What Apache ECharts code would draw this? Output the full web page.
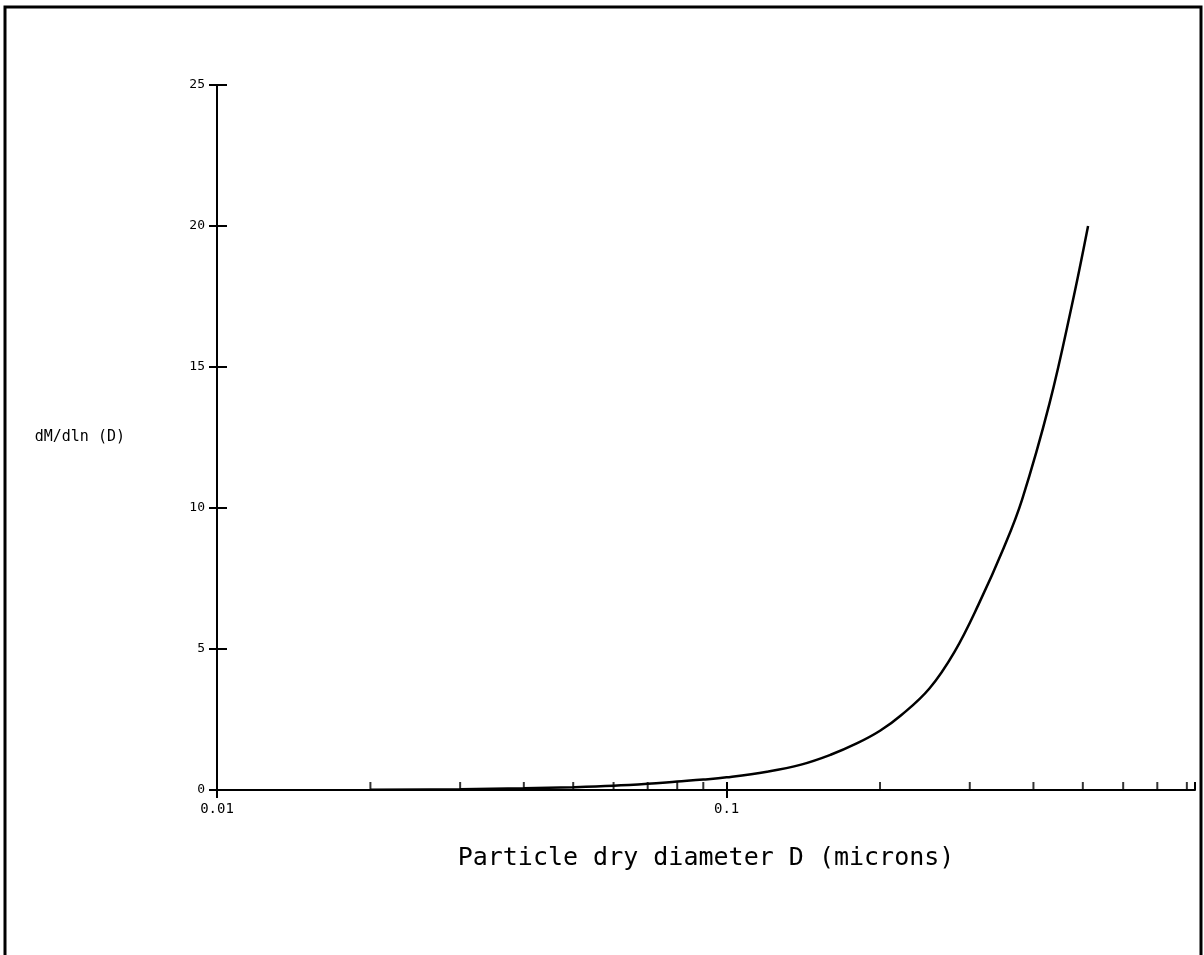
<!DOCTYPE html>
<html>
<head>
<meta charset="utf-8">
<title>dM/dln(D)</title>
<script src="https://cdn.jsdelivr.net/npm/echarts@6/dist/echarts.min.js"></script>
<style>
  html, body { margin: 0; padding: 0; background: #fff; }
  #chart { width: 1204px; height: 955px; }
</style>
</head>
<body>
<div id="chart"></div>
<script>
// diameters (microns) and dM/dln(D)
var diam = [0.02, 0.03, 0.04, 0.05, 0.06, 0.07, 0.08, 0.09, 0.1, 0.12, 0.14, 0.16, 0.18, 0.2, 0.22, 0.25, 0.28, 0.3125, 0.35, 0.38, 0.43, 0.476, 0.512]
var mass = [0.01, 0.03, 0.06, 0.1, 0.15, 0.22, 0.3, 0.37, 0.45, 0.65, 0.9, 1.25, 1.65, 2.1, 2.65, 3.6, 4.9, 6.6, 8.6, 10.3, 13.7, 17.2, 20]
// small tick marks along the diameter axis
var minorTicks = [0.02, 0.03, 0.04, 0.05, 0.06, 0.07, 0.08, 0.09, 0.2, 0.3, 0.4, 0.5, 0.6, 0.7, 0.8]
var xLabels = ['0.01', '0.1']

var font = 'DejaVu Sans Mono'
var curve = diam.map(function (d, i) { return [d, mass[i]] })
var minor = minorTicks.map(function (d) { return [d, 0] })

var myChart = echarts.init(document.getElementById('chart'))
var xBase = {
    type: 'log',
    logBase: 10,
    min: 0.01,
    max: 0.83,
    splitLine: { show: false },
    axisLine: { show: false }
}
var options = {
    animation: false,
    backgroundColor: '#fff',
    grid: { left: 217, right: 9, top: 85, bottom: 165, containLabel: false, outerBoundsMode: 'none' },
    graphic: [
        {
            type: 'rect',
            shape: { x: 5, y: 7, width: 1196, height: 960 },
            style: { fill: 'none', stroke: '#000', lineWidth: 3 }
        }
    ],
    xAxis: [
        Object.assign({}, xBase, {
            name: 'Particle dry diameter D (microns)',
            nameLocation: 'middle',
            nameGap: 56,
            nameTextStyle: { fontFamily: font, fontSize: 25, color: '#000' },
            axisLine: { show: true, lineStyle: { color: '#000', width: 2 } },
            axisTick: { show: true, length: 8, lineStyle: { color: '#000', width: 2 } },
            axisLabel: {
                show: true, fontFamily: font, fontSize: 14, color: '#000', margin: 12,
                showMaxLabel: false,
                formatter: function (v) {
                    if (v > 0.5) return ''
                    return v < 0.05 ? xLabels[0] : xLabels[1]
                }
            }
        }),
        Object.assign({}, xBase, {
            position: 'bottom',
            axisTick: { show: true, inside: true, length: 8, lineStyle: { color: '#000', width: 2 } },
            axisLabel: { show: false }
        })
    ],
    yAxis: [
        {
            type: 'value',
            min: 0,
            max: 25,
            interval: 5,
            name: 'dM/dln (D)',
            nameLocation: 'middle',
            nameRotate: 0,
            nameGap: 92,
            nameTextStyle: { fontFamily: font, fontSize: 15, color: '#000' },
            splitLine: { show: false },
            axisLine: { show: true, lineStyle: { color: '#000', width: 2 } },
            axisTick: { show: true, length: 8, lineStyle: { color: '#000', width: 2 } },
            axisLabel: { fontFamily: font, fontSize: 13, color: '#000', margin: 12 }
        },
        {
            type: 'value',
            min: 0,
            max: 25,
            interval: 5,
            position: 'left',
            splitLine: { show: false },
            axisLine: { show: false },
            axisTick: { show: true, inside: true, length: 10, lineStyle: { color: '#000', width: 2 } },
            axisLabel: { show: false }
        }
    ],
    series: [
        {
            name: 'minor ticks',
            type: 'scatter',
            data: minor,
            symbol: 'rect',
            symbolSize: [2, 8],
            symbolOffset: [0, -4],
            itemStyle: { color: '#000' },
            silent: true
        },
        {
            name: 'dM/dln(D)',
            type: 'line',
            data: curve,
            smooth: 0.4,
            showSymbol: false,
            lineStyle: { color: '#000', width: 2.5 }
        }
    ]
}
myChart.setOption(options)
</script>
</body>
</html>
